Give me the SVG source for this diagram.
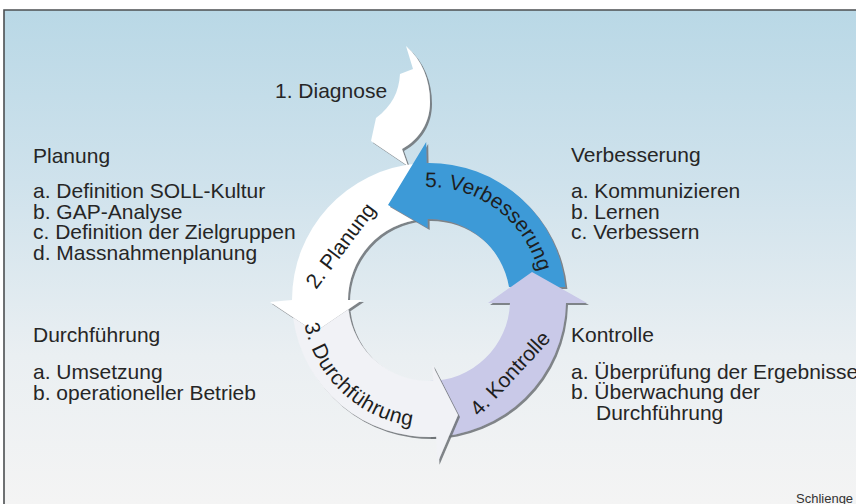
<svg xmlns="http://www.w3.org/2000/svg" xmlns:xlink="http://www.w3.org/1999/xlink" width="856" height="504" viewBox="0 0 856 504">
  <defs>
    <linearGradient id="bg" x1="0" y1="10" x2="0" y2="504" gradientUnits="userSpaceOnUse">
      <stop offset="0" stop-color="#b9d8e6"/>
      <stop offset="0.35" stop-color="#cfe2ec"/>
      <stop offset="0.7" stop-color="#eaeff2"/>
      <stop offset="1" stop-color="#f4f4f4"/>
    </linearGradient>
    <filter id="sh" x="-20%" y="-20%" width="140%" height="140%">
      <feDropShadow dx="2" dy="2" stdDeviation="0.7" flood-color="#6d7176" flood-opacity="0.85"/>
    </filter>
    <path id="tp-verb" d="M 425.06,187.07 A 113 113 0 0 1 542,300"/>
    <path id="tp-durch" d="M 304.33,324.23 A 127 127 0 0 0 451.05,425.07"/>
  </defs>
  <style>
    text { font-family: "Liberation Sans", Arial, Helvetica, sans-serif; fill: #262626; }
    .t { font-size: 21px; }
    .r { font-size: 21px; fill: #1e1e1e; }
    .small { font-size: 13px; fill: #333; }
    .arrow { filter: url(#sh); }
  </style>

  <rect x="0" y="0" width="856" height="504" fill="#ffffff"/>
  <rect x="4" y="10" width="852" height="494" fill="url(#bg)"/>
  <path d="M 4,504 V 10 H 856" fill="none" stroke="#4c4f52" stroke-width="1.6"/>

  <g id="connectors"/>

  <g id="diagnose">
    <path class="arrow" fill="#ffffff" d="M 406,46 L 413,69 L 400,74 C 399,92 392,106 376,118 L 371,141 L 408,166 L 402,149 C 420,139 430,122 430,102 C 430,80 422,60 406,46 Z"/>
    <text class="t" x="275" y="98">1. Diagnose</text>
  </g>

  <g id="planung">
    <path class="arrow" fill="#ffffff" d="M 417.06,163.52 A 137 137 0 0 0 292,300 L 270,302 L 315,332 L 362,300 L 348,300 A 81 81 0 0 1 421.94,219.31 Z"/>
    <text class="r" transform="translate(316,290) rotate(-53)">2. Planung</text>
  </g>

  <g id="verbesserung">
    <path class="arrow" fill="#3d9ad7" d="M 565.4,287 A 137 137 0 0 0 426.6,163 L 426.2,142 L 388,205 L 427.7,228 L 427.6,219 A 81 81 0 0 1 509,287 Z"/>
    <text class="r"><textPath href="#tp-verb" xlink:href="#tp-verb">5. Verbesserung</textPath></text>
  </g>

  <g id="kontrolle">
    <path class="arrow" fill="#c9c9e8" d="M 566,303 L 587,303 L 532,272 L 488,303 L 510,303 A 81 81 0 0 1 429,381 L 429,437 A 137 137 0 0 0 566,303 Z"/>
    <text class="r" transform="translate(479,417) rotate(-47)">4. Kontrolle</text>
  </g>

  <g id="durchfuehrung">
    <path class="arrow" fill="#f1f2f6" d="M 293.1,317.4 A 137 137 0 0 0 436.2,436.8 L 437.5,462.8 L 458,415 L 432.4,364.9 L 433.2,380.9 A 81 81 0 0 1 348.5,309.2 L 315,332 Z"/>
    <text class="r" letter-spacing="0.5"><textPath href="#tp-durch" xlink:href="#tp-durch">3. Durchführung</textPath></text>
  </g>

  <g id="info-planung">
    <text class="t" x="33" y="163">Planung</text>
    <text class="t" x="33" y="198">a. Definition SOLL-Kultur</text>
    <text class="t" x="33" y="218.5">b. GAP-Analyse</text>
    <text class="t" x="33" y="239">c. Definition der Zielgruppen</text>
    <text class="t" x="33" y="259.5">d. Massnahmenplanung</text>
  </g>

  <g id="info-durchfuehrung">
    <text class="t" x="33" y="342">Durchführung</text>
    <text class="t" x="33" y="379">a. Umsetzung</text>
    <text class="t" x="33" y="399.5">b. operationeller Betrieb</text>
  </g>

  <g id="info-verbesserung">
    <text class="t" x="571" y="162">Verbesserung</text>
    <text class="t" x="571" y="197.5">a. Kommunizieren</text>
    <text class="t" x="571" y="218.5">b. Lernen</text>
    <text class="t" x="571" y="239">c. Verbessern</text>
  </g>

  <g id="info-kontrolle">
    <text class="t" x="571" y="341.5">Kontrolle</text>
    <text class="t" x="571" y="378.5">a. Überprüfung der Ergebnisse</text>
    <text class="t" x="571" y="399">b. Überwachung der</text>
    <text class="t" x="596" y="419.5">Durchführung</text>
  </g>

  <text class="small" x="796" y="502.5">Schlienge</text>
</svg>
